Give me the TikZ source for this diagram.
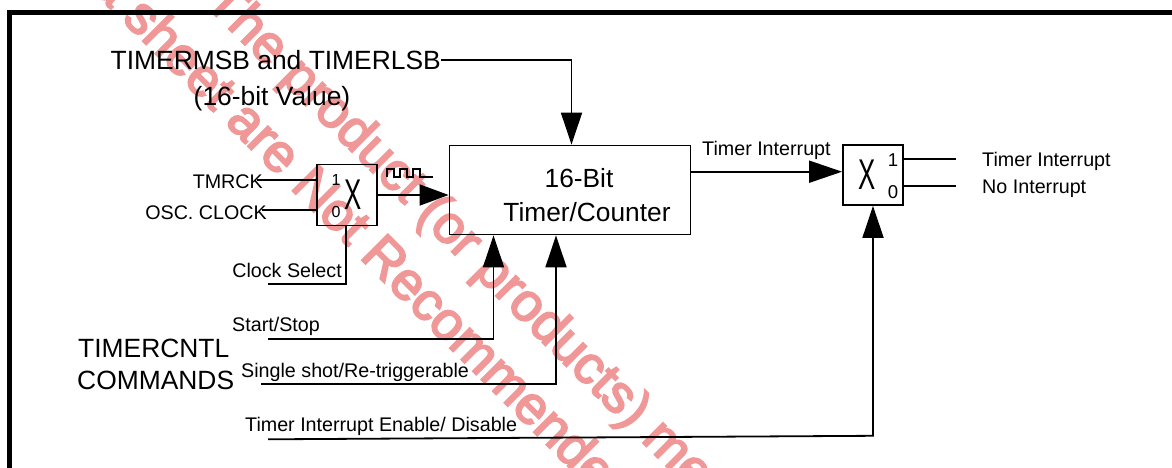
\documentclass[tikz,border=0pt]{standalone}
\usepackage{fontspec}
\setmainfont{Liberation Sans}
\newfontfamily\wmfont[FakeBold=3.5]{Liberation Sans}
\usetikzlibrary{arrows.meta}
\definecolor{wmpink}{RGB}{240,152,152}
\newcommand\tsz[1]{\fontsize{#1}{#1}\selectfont}
\begin{document}
\begin{tikzpicture}[x=1pt,y=-1pt,
  lbl/.style={inner sep=0pt,font=\tsz{19.7}},
  big/.style={inner sep=0pt,font=\tsz{26.4}},
  wire/.style={line width=1.8pt},
  arr/.style={wire,-{Triangle[length=32pt,width=21pt]}},
  blk/.style={draw,line width=1.8pt,inner sep=0pt},
  muxx/.style={inner sep=0pt,font=\tsz{43},xscale=0.6},
  wm/.style={text=wmpink,font=\wmfont\tsz{53.5},rotate=-45,inner sep=0pt,anchor=base west}]
\useasboundingbox (0,0) rectangle (1172,468);
\clip (0,0) rectangle (1172,468);
% watermark (underneath)
\node[wm] (wm1) at (203,3) {The product (or products) mentioned};
\node[wm] (wm2) at (37,-64.6) {data sheet are Not Recommended};
% frame
\draw[line width=5pt] (9.5,475) -- (9.5,13) -- (1180,13);
% blocks
\node[blk,minimum width=241pt,minimum height=89pt] (tc) at (570,190) {};
\node[inner sep=0pt,font=\tsz{26.3}] (tc1) at (579,178) {16-Bit};
\node[inner sep=0pt,font=\tsz{26.3}] (tc2) at (587,212) {Timer/Counter};
\node[blk,minimum width=60pt,minimum height=61pt] (m1) at (347,195) {};
\node[muxx] (m1x) at (353,195) {X};
\node[inner sep=0pt,font=\tsz{16}] (m1a) at (336,180) {1};
\node[inner sep=0pt,font=\tsz{16}] (m1b) at (336,212) {0};
\node[blk,minimum width=60pt,minimum height=60pt] (m2) at (873,175) {};
\node[muxx] (m2x) at (866.7,175) {X};
\node[inner sep=0pt,font=\tsz{18.6}] (m2a) at (893,160) {1};
\node[inner sep=0pt,font=\tsz{18.6}] (m2b) at (893,192) {0};
% labels
\node[big,anchor=east] (msb) at (441,60) {TIMERMSB and TIMERLSB};
\node[big] (val) at (272,99) {(16-bit Value)};
\node[lbl,anchor=east] (tmrck) at (263,182) {TMRCK};
\node[lbl,anchor=east] (osc) at (267,213) {OSC. CLOCK};
\node[lbl,anchor=east] (csel) at (342,270) {Clock Select};
\node[lbl,anchor=west] (ssl) at (232,326.5) {Start/Stop};
\node[big,anchor=west] (tcn) at (78,348) {TIMERCNTL};
\node[big,anchor=west] (cmd) at (77,380) {COMMANDS};
\node[lbl,anchor=west] (sgl) at (241,372.5) {Single shot/Re-triggerable};
\node[lbl,anchor=west] (enl) at (245,426.5) {Timer Interrupt Enable/ Disable};
\node[lbl,anchor=west] (tiout) at (702,150) {Timer Interrupt};
\node[lbl,anchor=west] (tio1) at (982,161) {Timer Interrupt};
\node[lbl,anchor=west] (noi) at (982,189) {No Interrupt};
% coordinates
\coordinate (tmrckS) at (257,180);
\coordinate (oscS) at (262,210);
\coordinate (cselE) at (268,284);
\coordinate (ssS) at (268,339.3);
\coordinate (ssX) at (493.5,0);
\coordinate (sgS) at (261,384);
\coordinate (sgX) at (556,0);
\coordinate (enS) at (268,439.3);
\coordinate (enC) at (873,435.8);
\coordinate (tiS) at (tc.east |- 0,171.7);
\coordinate (o1) at (956,159.3);
\coordinate (o0) at (956,185.7);
% connectors
\draw[arr] (msb.east) -| ([xshift=1.5pt]tc.north);
\draw[wire] (tmrckS) -- (tmrckS -| m1.west);
\draw[wire] (oscS) -- (oscS -| m1.west);
\draw[wire] ([xshift=-1pt]m1.south) |- (cselE);
\draw[wire,-{Triangle[length=29pt,width=21pt]}] (m1.east) -- (m1.east -| tc.west);
\draw[line width=1.4pt] (387,177) -- (387,169) -- (394,169) -- (394,177) -- (400,177) -- (400,169) -- (407,169) -- (407,177) -- (413,177) -- (413,169) -- (420,169) -- (420,177) -- (433,177);
\draw[arr] (ssS) -| (tc.south -| ssX);
\draw[arr] (sgS) -| (tc.south -| sgX);
\draw[arr] (enS) -- (enC) -- (m2.south);
\draw[wire,-{Triangle[length=33pt,width=22pt]}] (tiS) -- (tiS -| m2.west);
\draw[wire] (o1 -| m2.east) -- (o1);
\draw[wire] (o0 -| m2.east) -- (o0);
\end{tikzpicture}
\end{document}
